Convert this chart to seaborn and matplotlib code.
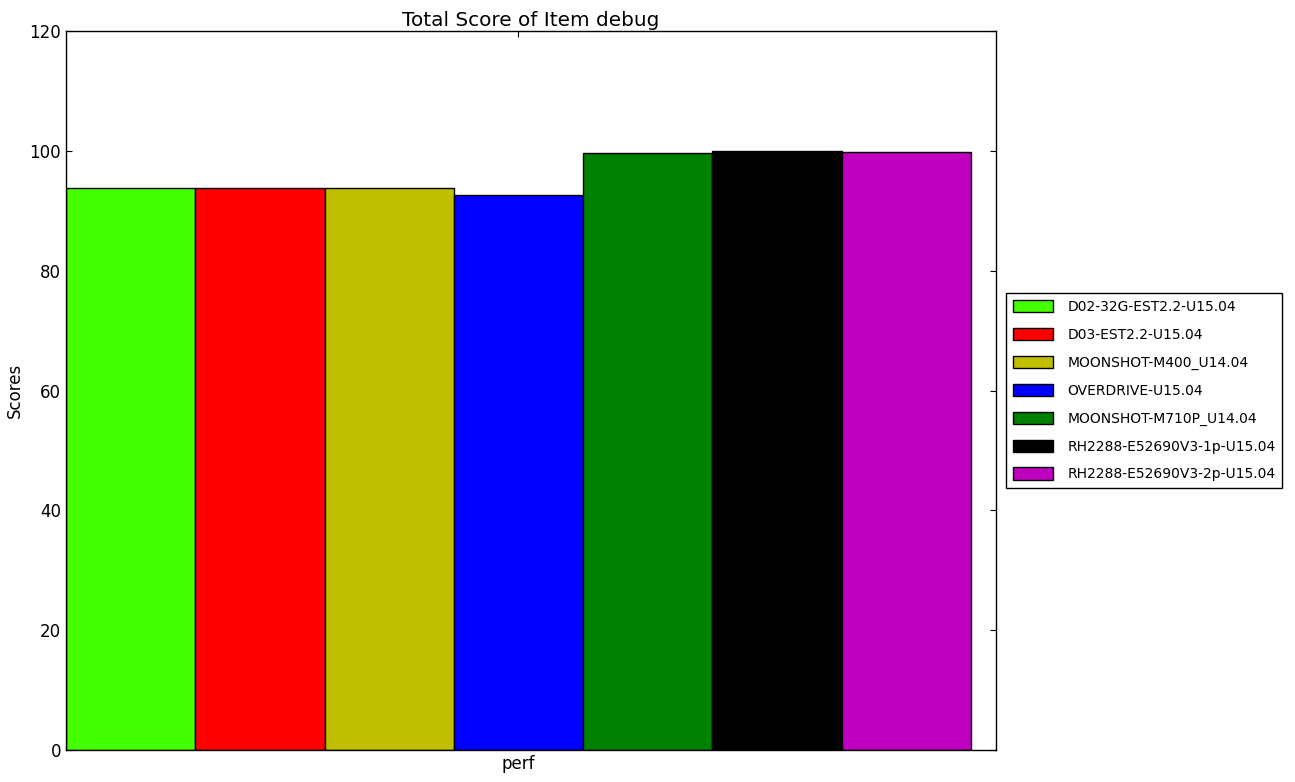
import pandas as pd
import seaborn as sns
import matplotlib.pyplot as plt

# chart values
systems = ['D02-32G-EST2.2-U15.04', 'D03-EST2.2-U15.04', 'MOONSHOT-M400_U14.04',
           'OVERDRIVE-U15.04', 'MOONSHOT-M710P_U14.04',
           'RH2288-E52690V3-1p-U15.04', 'RH2288-E52690V3-2p-U15.04']
scores = [93.8, 93.8, 93.8, 92.6, 99.6, 100.0, 99.9]
items = ['perf'] * len(systems)
colors = ['#44ff00', '#ff0000', '#bfbf00', '#0000ff', '#008000', '#000000', '#bf00bf']

df = pd.DataFrame({'item': items, 'system': systems, 'score': scores})

sns.set_style('ticks')
plt.rcParams['font.family'] = ['DejaVu Sans']
plt.rcParams['text.color'] = 'black'
plt.rcParams['axes.labelcolor'] = 'black'
plt.rcParams['xtick.direction'] = 'in'
plt.rcParams['ytick.direction'] = 'in'
plt.rcParams['xtick.top'] = True
plt.rcParams['ytick.right'] = True

fig = plt.figure(figsize=(12.95, 7.82), dpi=100)
ax = fig.add_axes([0.051, 0.041, 0.718, 0.919])

sns.barplot(data=df, x='item', y='score', hue='system', palette=colors,
            saturation=1, width=0.8, gap=0, edgecolor='black', linewidth=1,
            errorbar=None, ax=ax)

bw = 0.8 / len(systems)
ax.set_xlim(-0.4, 0.4 + bw * 25 / 129.3)
ax.set_ylim(0, 120)
ax.set_yticks(range(0, 121, 20))
ax.tick_params(labelsize=12, length=4, width=0.8, colors='black')
ax.set_xlabel('')
ax.set_ylabel('Scores', fontsize=12, color='black')
ax.set_title('Total Score of Item debug', fontsize=14.4, color='black', pad=4)
for s in ax.spines.values():
    s.set_color('black')
    s.set_linewidth(1)

leg = ax.legend(loc='center left', bbox_to_anchor=(1.011, 0.5), fontsize=10,
                fancybox=False, edgecolor='black', framealpha=1,
                handlelength=2.9, handleheight=1.0, labelspacing=1.0,
                borderpad=0.5, handletextpad=1.0, borderaxespad=0)
for t in leg.get_texts():
    t.set_color('black')

fig.savefig('out.png', dpi=100)
